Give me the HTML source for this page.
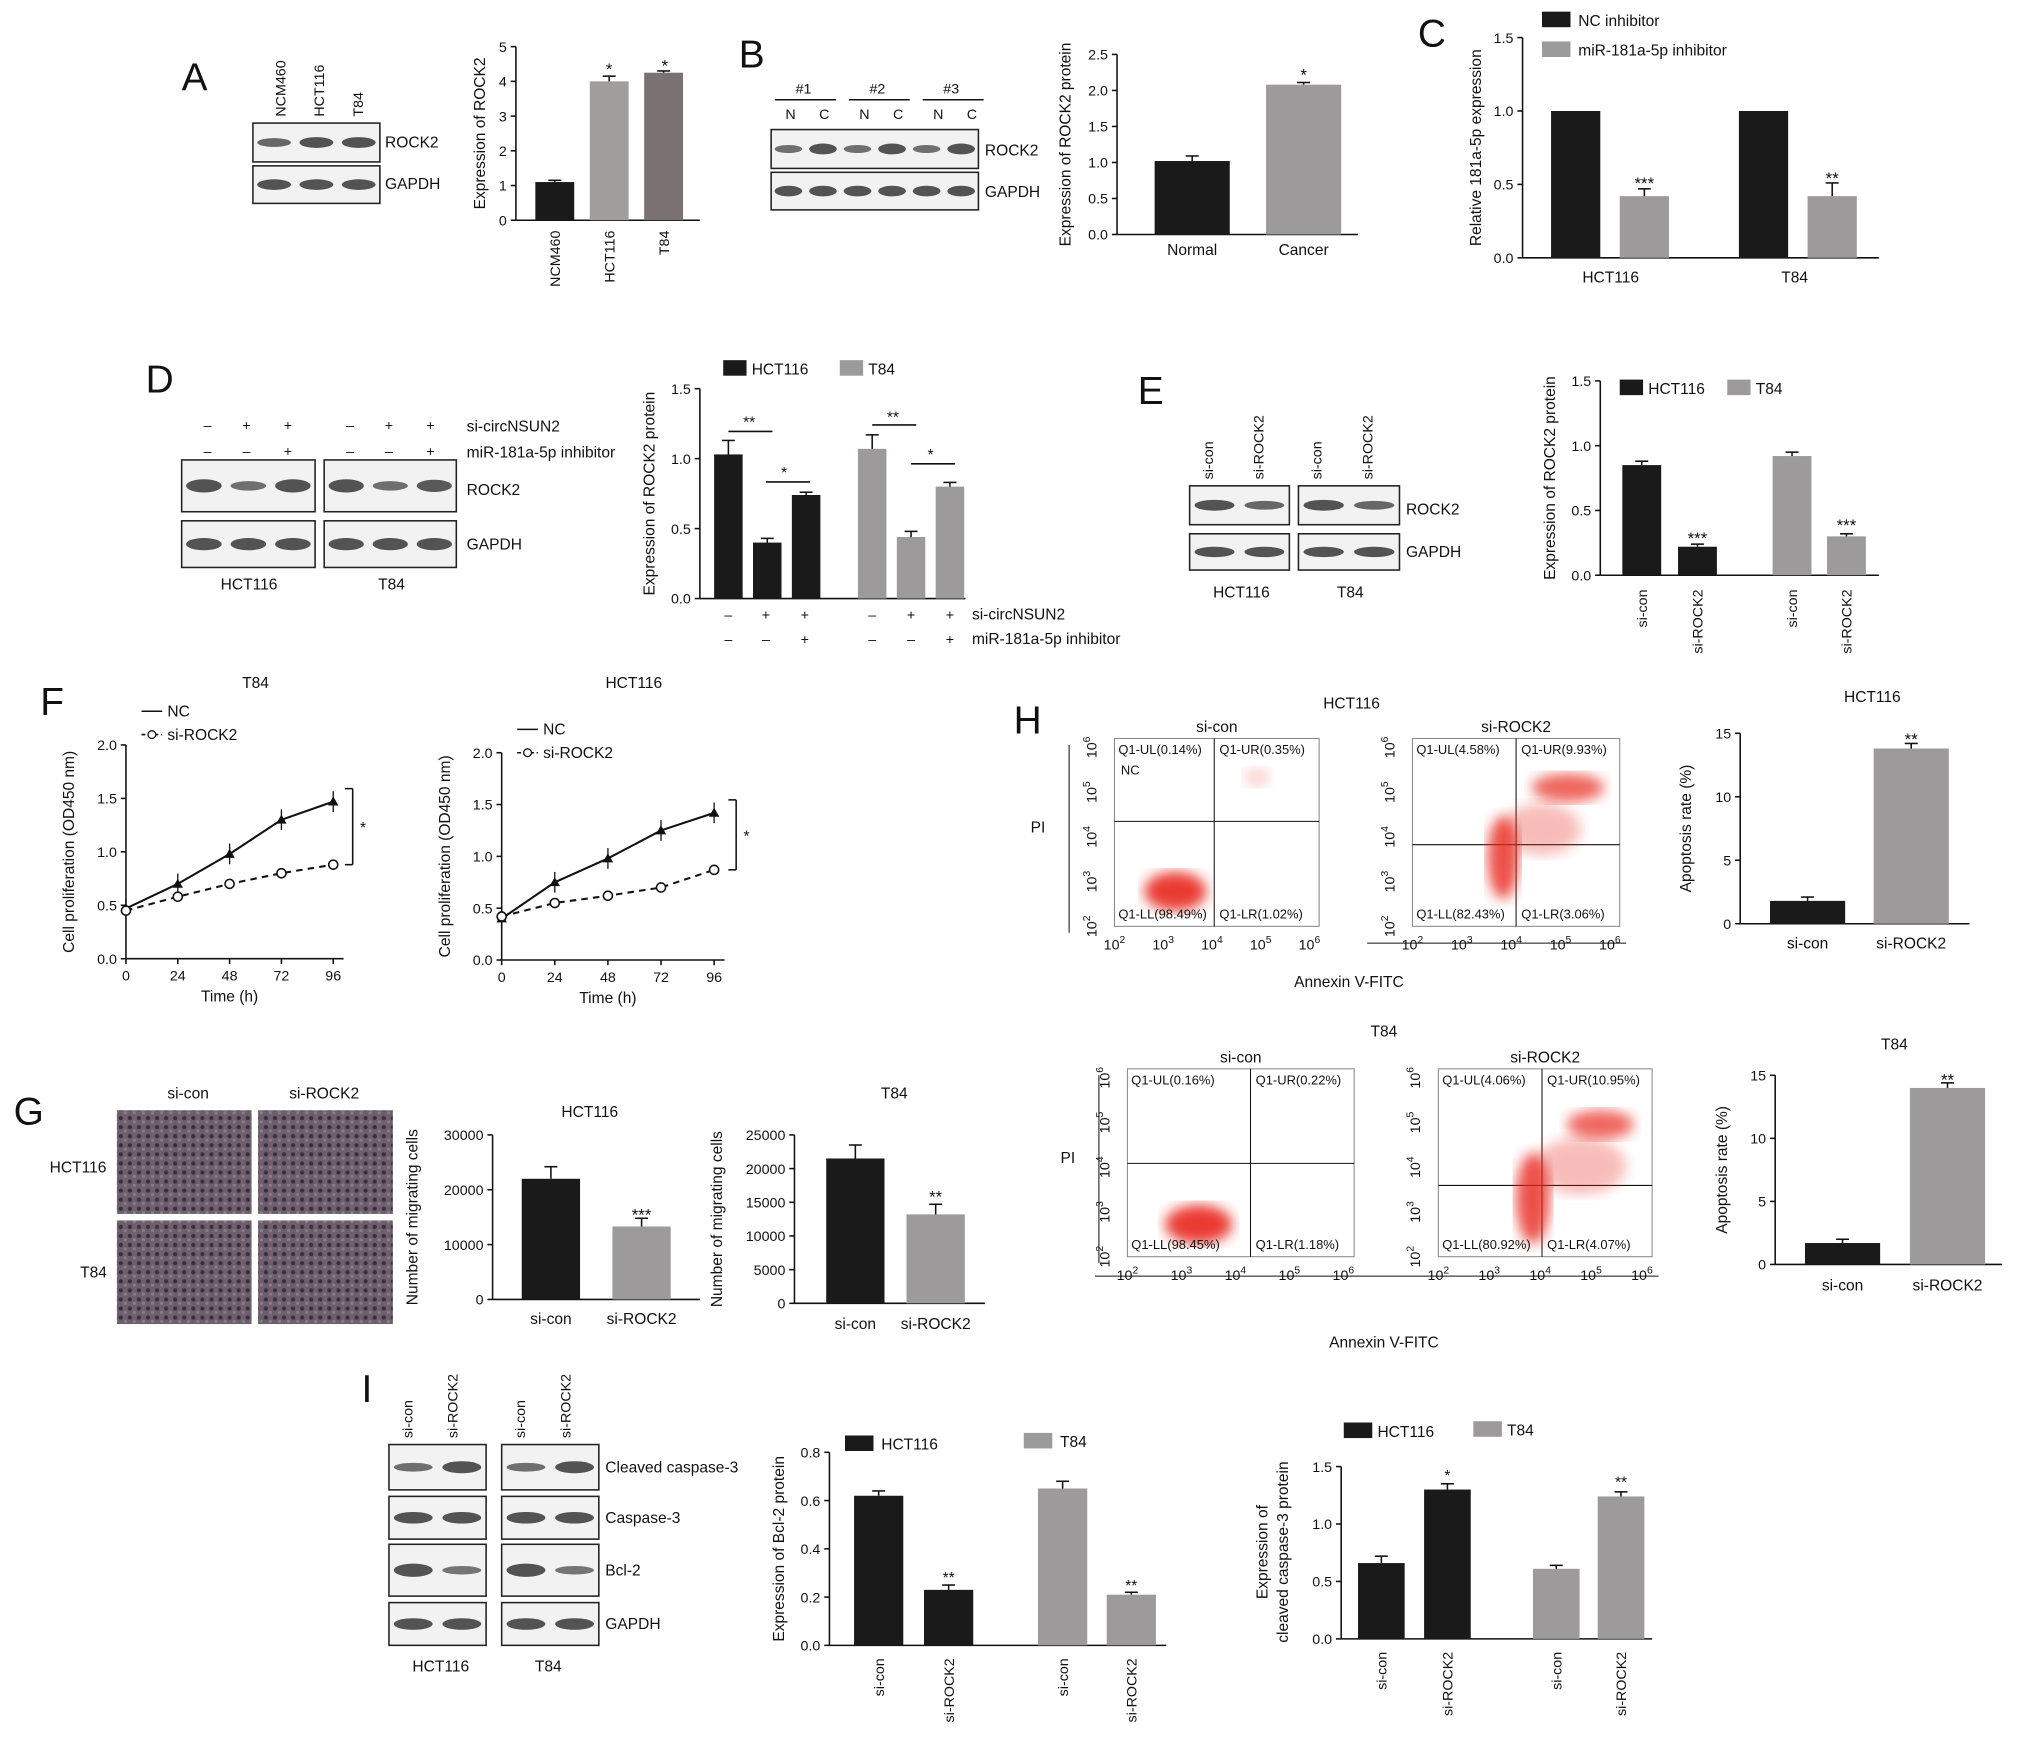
<!DOCTYPE html>
<html><head><meta charset="utf-8">
<style>
html,body{margin:0;padding:0;background:#fff;}
svg{display:block;font-family:"Liberation Sans",Arial,sans-serif;}
</style></head>
<body>
<svg id="fig" width="2032" height="1749" viewBox="0 0 1568 1350" xmlns="http://www.w3.org/2000/svg">
<defs>
<pattern id="cells" width="7" height="7" patternUnits="userSpaceOnUse">
<rect width="7" height="7" fill="#6d5f6e"/>
<circle cx="2" cy="2" r="1.6" fill="#3a2d3c"/><circle cx="5.5" cy="5" r="1.2" fill="#8a7c88"/>
</pattern>
<filter id="blur"><feGaussianBlur stdDeviation="5"/></filter>
</defs>
<g id="root"></g>
</svg>
<script>
// ---------- data ----------
const aCats=["NCM460","HCT116","T84"]; const aVals=[1.1,4.0,4.25]; const aErr=[0.05,0.15,0.05];
const bCats=["Normal","Cancer"]; const bVals=[1.02,2.08]; const bErr=[0.07,0.03];
const cGroups=["HCT116","T84"]; const cNC=[1.0,1.0]; const cInh=[0.42,0.42]; const cInhErr=[0.05,0.09];
const dHCT=[1.03,0.4,0.74]; const dT84=[1.07,0.44,0.8]; const dHCTerr=[0.1,0.03,0.02]; const dT84err=[0.1,0.04,0.03];
const eHCT=[0.85,0.22]; const eT84=[0.92,0.3]; const eErr=[0.03,0.02];
const fTimes=[0,24,48,72,96]; const fT84NC=[0.47,0.7,0.98,1.3,1.47]; const fT84Si=[0.45,0.58,0.7,0.8,0.88];
const fHctNC=[0.4,0.75,0.98,1.25,1.42]; const fHctSi=[0.42,0.55,0.62,0.7,0.87];
const gHct=[22000,13300]; const gHctErr=[2200,1500]; const gT84=[21500,13200]; const gT84Err=[2000,1500];
const hHct=[1.8,13.8]; const hT84=[1.7,14.0]; const hErr=[0.3,0.4];
const iBclHCT=[0.62,0.23]; const iBclT84=[0.65,0.21]; const iCasHCT=[0.66,1.3]; const iCasT84=[0.61,1.24];
const siCats=["si-con","si-ROCK2"];
// ---------- helpers ----------
const NS="http://www.w3.org/2000/svg"; const root=document.getElementById('root');
function el(tag,attrs,name,txt){const e=document.createElementNS(NS,tag);for(const k in attrs)e.setAttribute(k,attrs[k]);


if(txt!==undefined)e.textContent=txt;root.appendChild(e);return e;}
function T(x,y,s,opt={}){const a={x:x,y:y,'font-size':opt.fs||12,fill:'#111','text-anchor':opt.anchor||'middle'};
if(opt.rot!==undefined)a.transform=`rotate(${opt.rot} ${x} ${y})`;if(opt.bold)a['font-weight']='bold';return el('text',a,opt.name||'label',s);}
function sup(t,s){const ts=document.createElementNS(NS,'tspan');ts.setAttribute('dy','-5');ts.setAttribute('font-size','8');ts.textContent=s;t.appendChild(ts);}
function L(x1,y1,x2,y2,name,w,dash){const a={x1,y1,x2,y2,stroke:'#111','stroke-width':w||1.2};if(dash)a['stroke-dasharray']=dash;return el('line',a,name||'line');}
function yAxis(x,y0,yTop,max,step,dec,title,tx){const sc=v=>y0-v/max*(y0-yTop);L(x,y0,x,yTop,'y-axis');
for(let v=0;v<=max+1e-9;v+=step){const y=sc(v);L(x-4,y,x,y,'y-tick');T(x-7,y+4,v.toFixed(dec),{anchor:'end',fs:11,name:'y-tick-label'});}
if(title)T(tx,(y0+yTop)/2,title,{rot:-90,fs:12,name:'y-axis-title'});return sc;}
function bars(sc,y0,x0,step,w,vals,colors,errs,name){vals.forEach((v,i)=>{const cx=x0+step*i;const y=sc(v);
el('rect',{x:cx-w/2,y:y,width:w,height:y0-y,fill:colors[i%colors.length]},name+'-'+i);
if(errs){const ey=sc(v+errs[i]);L(cx,y,cx,ey,'error-bar',1.2);L(cx-5,ey,cx+5,ey,'error-cap',1.2);}});}
function letter(x,y,s){T(x,y,s,{fs:30,name:'panel-letter-'+s});}
function blot(x,y,w,h,lanes,intens,name){el('rect',{x,y,width:w,height:h,fill:'#f2f2f2',stroke:'#222','stroke-width':1.2},name);
const lw=w/lanes;for(let i=0;i<lanes;i++){const k=intens?intens[i]:1;el('ellipse',{cx:x+lw*(i+0.5),cy:y+h/2,rx:lw*0.4,ry:h*0.09*k+1.5,fill:'#2a2a2a',opacity:0.45+0.35*Math.min(k,1)},name+'-band');}}
const BK='#1a1a1a', GR='#9c9a9a';
// ---------- A ----------
letter(150,70,'A');
aCats.forEach((c,i)=>T(220+30*i,90,c,{rot:-90,anchor:'start',fs:11,name:'blot-lane-label'}));
blot(195,95,98,30,3,[0.7,1,1],'blot-rock2'); blot(195,128,98,29,3,[1,1,1],'blot-gapdh');
T(297,114,'ROCK2',{anchor:'start',fs:12}); T(297,146,'GAPDH',{anchor:'start',fs:12});
{const sc=yAxis(398,170,36,5,1,0,'Expression of ROCK2',374);L(398,170,540,170,'x-axis');
bars(sc,170,428,42,30,aVals,[BK,'#a09d9d','#7a7272'],aErr,'bar-a');
aCats.forEach((c,i)=>T(432+42*i,178,c,{rot:-90,anchor:'end',fs:11,name:'x-tick-label'}));
T(470,58,'*',{fs:13});T(513,55,'*',{fs:13});}
// ---------- B ----------
letter(580,52,'B');
['#1','#2','#3'].forEach((s,i)=>{T(620+57*i,72,s,{fs:11});L(598+57*i,77,645+57*i,77,'group-line');T(610+57*i,92,'N',{fs:11});T(636+57*i,92,'C',{fs:11});});
blot(595,100,160,30,6,[0.6,1,0.6,1,0.6,1],'blot-rock2-b'); blot(595,133,160,29,6,null,'blot-gapdh-b');
T(760,120,'ROCK2',{anchor:'start'});T(760,152,'GAPDH',{anchor:'start'});
{const sc=yAxis(862,181,42,2.5,0.5,1,'Expression of ROCK2 protein',826);L(862,181,1048,181,'x-axis');
bars(sc,181,920,86,58,bVals,[BK,GR],bErr,'bar-b');bCats.forEach((c,i)=>T(920+86*i,197,c,{fs:12,name:'x-tick-label'}));T(1006,62,'*',{fs:13});}
// ---------- C ----------
letter(1105,36,'C');
el('rect',{x:1190,y:9,width:22,height:12,fill:BK},'legend-swatch');T(1218,20,'NC inhibitor',{anchor:'start'});
el('rect',{x:1190,y:32,width:22,height:12,fill:GR},'legend-swatch');T(1218,43,'miR-181a-5p inhibitor',{anchor:'start'});
{const sc=yAxis(1175,199,29,1.5,0.5,1,'Relative 181a-5p expression',1143);L(1175,199,1450,199,'x-axis');
bars(sc,199,1216,145,38,cNC,[BK],null,'bar-c-nc');bars(sc,199,1269,145,38,cInh,[GR],cInhErr,'bar-c-inh');
cGroups.forEach((g,i)=>T(1243+142*i,218,g,{fs:12,name:'x-tick-label'}));T(1269,146,'***',{fs:13});T(1414,142,'**',{fs:13});}
// ---------- D ----------
letter(123,303,'D');
const sg1=['–','+','+'],sg2=['–','–','+'];
[160,190,222,270,300,332].forEach((x,i)=>{T(x,332,sg1[i%3],{fs:11,name:'sign'});T(x,352,sg2[i%3],{fs:11,name:'sign'});});
T(360,333,'si-circNSUN2',{anchor:'start'});T(360,353,'miR-181a-5p inhibitor',{anchor:'start'});
blot(140,355,103,40,3,[1,0.6,1],'blot-d');blot(250,355,102,40,3,[1,0.6,0.9],'blot-d');
blot(140,402,103,36,3,null,'blot-d-gapdh');blot(250,402,102,36,3,null,'blot-d-gapdh');
T(360,382,'ROCK2',{anchor:'start'});T(360,424,'GAPDH',{anchor:'start'});T(192,455,'HCT116');T(302,455,'T84');
el('rect',{x:558,y:278,width:18,height:12,fill:BK},'legend-swatch');T(580,289,'HCT116',{anchor:'start'});
el('rect',{x:648,y:278,width:18,height:12,fill:GR},'legend-swatch');T(670,289,'T84',{anchor:'start'});
{const sc=yAxis(540,462,300,1.5,0.5,1,'Expression of ROCK2 protein',505);L(540,462,745,462,'x-axis');
bars(sc,462,562,30,22,dHCT,[BK],dHCTerr,'bar-d-hct');bars(sc,462,673,30,22,dT84,[GR],dT84err,'bar-d-t84');
[562,591,621,673,703,733].forEach((x,i)=>{T(x,478,sg1[i%3],{fs:11,name:'sign'});T(x,497,sg2[i%3],{fs:11,name:'sign'});});
T(750,478,'si-circNSUN2',{anchor:'start'});T(750,497,'miR-181a-5p inhibitor',{anchor:'start'});
L(562,333,596,333,'sig-line');T(578,330,'**');L(591,372,625,372,'sig-line');T(605,369,'*');
L(673,328,707,328,'sig-line');T(689,326,'**');L(703,358,737,358,'sig-line');T(718,355,'*');}
// ---------- E ----------
letter(888,312,'E');
[936,975,1020,1059].forEach((x,i)=>T(x,370,siCats[i%2],{rot:-90,anchor:'start',fs:11,name:'blot-lane-label'}));
blot(918,375,77,30,2,[1,0.7],'blot-e');blot(1002,375,78,30,2,[1,0.7],'blot-e');
blot(918,412,77,28,2,null,'blot-e-gapdh');blot(1002,412,78,28,2,null,'blot-e-gapdh');
T(1085,397,'ROCK2',{anchor:'start'});T(1085,430,'GAPDH',{anchor:'start'});T(958,461,'HCT116');T(1042,461,'T84');
el('rect',{x:1250,y:293,width:18,height:12,fill:BK},'legend-swatch');T(1272,304,'HCT116',{anchor:'start'});
el('rect',{x:1333,y:293,width:18,height:12,fill:GR},'legend-swatch');T(1355,304,'T84',{anchor:'start'});
{const sc=yAxis(1235,444,294,1.5,0.5,1,'Expression of ROCK2 protein',1200);L(1235,444,1450,444,'x-axis');
bars(sc,444,1267,43,30,eHCT,[BK],eErr,'bar-e-hct');bars(sc,444,1383,42,30,eT84,[GR],eErr,'bar-e-t84');
[1267,1310,1383,1425].forEach((x,i)=>T(x+4,455,siCats[i%2],{rot:-90,anchor:'end',fs:11,name:'x-tick-label'}));
T(1310,420,'***',{fs:13});T(1425,410,'***',{fs:13});}
// ---------- F ----------
letter(40,552,'F');
function lineChart(ax,y0,yTop,xEnd,title,nc,si,legY,brX){T((ax+xEnd)/2+20,531,title);
const sc=yAxis(ax,y0,yTop,2,0.5,1,'Cell proliferation (OD450 nm)',ax-40);L(ax,y0,xEnd+8,y0,'x-axis');
const sx=t=>ax+t/96*(xEnd-ax);fTimes.forEach(t=>{L(sx(t),y0,sx(t),y0+4,'x-tick');T(sx(t),y0+17,String(t),{fs:11,name:'x-tick-label'});});
T((ax+xEnd)/2,y0+33,'Time (h)');
el('polyline',{points:fTimes.map((t,i)=>sx(t)+','+sc(nc[i])).join(' '),fill:'none',stroke:'#111','stroke-width':1.6},'series-nc');
el('polyline',{points:fTimes.map((t,i)=>sx(t)+','+sc(si[i])).join(' '),fill:'none',stroke:'#111','stroke-width':1.6,'stroke-dasharray':'5,4'},'series-si');
fTimes.forEach((t,i)=>{el('path',{d:`M${sx(t)-4},${sc(nc[i])+3}L${sx(t)+4},${sc(nc[i])+3}L${sx(t)},${sc(nc[i])-4}Z`,fill:'#111'},'point-nc');
L(sx(t),sc(nc[i])-8,sx(t),sc(nc[i])+8,'error-bar',1);
el('circle',{cx:sx(t),cy:sc(si[i]),r:3.5,fill:'#fff',stroke:'#111','stroke-width':1.2},'point-si');});
L(ax+12,legY,ax+28,legY,'legend-line');T(ax+32,legY+4,'NC',{anchor:'start'});
L(ax+12,legY+18,ax+28,legY+18,'legend-line',1.2,'3,2');el('circle',{cx:ax+20,cy:legY+18,r:3,fill:'#fff',stroke:'#111'},'legend-marker');T(ax+32,legY+22,'si-ROCK2',{anchor:'start'});
L(brX,sc(nc[4])-10,brX+6,sc(nc[4])-10,'bracket');L(brX+6,sc(nc[4])-10,brX+6,sc(si[4]),'bracket');L(brX,sc(si[4]),brX+6,sc(si[4]),'bracket');
T(brX+14,(sc(nc[4])+sc(si[4]))/2,'*');}
lineChart(97,740,575,257,'T84',fT84NC,fT84Si,549,266);
lineChart(387,741,581,551,'HCT116',fHctNC,fHctSi,563,562);
// ---------- G ----------
letter(22,868,'G');
[[90,857],[199,857],[90,942],[199,942]].forEach(p=>el('rect',{x:p[0],y:p[1],width:104,height:80,fill:'url(#cells)'},'migration-image'));
T(145,848,'si-con');T(250,848,'si-ROCK2');T(60,905,'HCT116');T(72,986,'T84');
{const sc=yAxis(380,1003,876,30000,10000,0,'Number of migrating cells',322);L(380,1003,540,1003,'x-axis');
bars(sc,1003,425,70,45,gHct,[BK,GR],gHctErr,'bar-g-hct');siCats.forEach((c,i)=>T(425+70*i,1022,c,{name:'x-tick-label'}));
T(455,862,'HCT116');T(495,942,'***',{fs:13});}
{const sc=yAxis(613,1006,876,25000,5000,0,'Number of migrating cells',557);L(613,1006,760,1006,'x-axis');
bars(sc,1006,660,62,45,gT84,[BK,GR],gT84Err,'bar-g-t84');siCats.forEach((c,i)=>T(660+62*i,1026,c,{name:'x-tick-label'}));
T(690,848,'T84');T(722,928,'**',{fs:13});}
// ---------- H ----------
letter(793,566,'H');
function flow(x,y,w,h,qx,qy,label,q,clusters,pi){T(x+w/2,y-5,label);el('rect',{x,y,width:w,height:h,fill:'none',stroke:'#888','stroke-width':0.8},'flow-frame');
L(qx,y,qx,y+h,'quadrant-line',0.8);L(x,qy,x+w,qy,'quadrant-line',0.8);
clusters.forEach(c=>el('ellipse',{cx:c[0],cy:c[1],rx:c[2],ry:c[3],fill:'#e8261e',opacity:c[4],filter:'url(#blur)'},'flow-cluster'));
T(x+3,y+12,'Q1-UL('+q[0]+')',{anchor:'start',fs:10});T(qx+4,y+12,'Q1-UR('+q[1]+')',{anchor:'start',fs:10});
T(x+3,y+h-6,'Q1-LL('+q[2]+')',{anchor:'start',fs:10});T(qx+4,y+h-6,'Q1-LR('+q[3]+')',{anchor:'start',fs:10});
for(let i=0;i<5;i++){const tx=T(x+i*(w/4.2),y+h+18,'10',{fs:11,name:'flow-x-tick'});sup(tx,String(i+2));
const ty=T(x-14,y+h-i*(h/4.2),'10',{fs:11,rot:-90,name:'flow-y-tick'});sup(ty,String(i+2));}
if(pi){L(pi,y+5,pi,y+h+5,'pi-axis',0.8);T(pi-24,y+h/2,'PI');}}
T(1043,547,'HCT116');T(1068,1040,'Annexin V-FITC');T(1041,762,'Annexin V-FITC');T(1068,800,'T84');
flow(860,570,158,145,937,634,'si-con',['0.14%','0.35%','98.49%','1.02%'],[[907,688,24,15,0.9],[970,600,10,7,0.2]],825);
T(865,598,'NC',{anchor:'start',fs:10});
flow(1090,570,160,145,1170,652,'si-ROCK2',['4.58%','9.93%','82.43%','3.06%'],[[1160,662,12,32,0.8],[1210,608,28,11,0.7],[1190,640,30,20,0.3]],null);
L(1055,728,1255,728,'flow-axis',0.8);L(845,985,1280,985,'flow-axis',0.8);
flow(870,825,175,145,965,898,'si-con',['0.16%','0.22%','98.45%','1.18%'],[[925,945,26,15,0.9]],848);
flow(1110,825,165,145,1190,915,'si-ROCK2',['4.06%','10.95%','80.92%','4.07%'],[[1183,925,13,35,0.8],[1235,868,26,11,0.7],[1220,900,35,22,0.3]],null);
{const sc=yAxis(1343,713,566,15,5,0,'Apoptosis rate (%)',1305);L(1343,713,1520,713,'x-axis');
bars(sc,713,1395,80,58,hHct,[BK,GR],hErr,'bar-h-hct');siCats.forEach((c,i)=>T(1395+80*i,732,c,{name:'x-tick-label'}));T(1445,542,'HCT116');T(1475,575,'**',{fs:13});}
{const sc=yAxis(1370,976,830,15,5,0,'Apoptosis rate (%)',1333);L(1370,976,1545,976,'x-axis');
bars(sc,976,1422,81,58,hT84,[BK,GR],hErr,'bar-h-t84');siCats.forEach((c,i)=>T(1422+81*i,996,c,{name:'x-tick-label'}));T(1462,810,'T84');T(1503,838,'**',{fs:13});}
// ---------- I ----------
letter(283,1082,'I');
[318,353,405,440].forEach((x,i)=>T(x,1110,siCats[i%2],{rot:-90,anchor:'start',fs:11,name:'blot-lane-label'}));
const rows=[[1115,35,'Cleaved caspase-3',[0.6,1]],[1155,33,'Caspase-3',[1,1]],[1192,40,'Bcl-2',[1,0.5]],[1237,33,'GAPDH',[1,1]]];
rows.forEach(r=>{blot(300,r[0],75,r[1],2,r[3],'blot-i');blot(387,r[0],75,r[1],2,r[3],'blot-i');T(467,r[0]+r[1]/2+4,r[2],{anchor:'start'});});
T(340,1290,'HCT116');T(423,1290,'T84');
el('rect',{x:652,y:1108,width:22,height:12,fill:BK},'legend-swatch');T(680,1119,'HCT116',{anchor:'start'});
el('rect',{x:790,y:1106,width:22,height:12,fill:GR},'legend-swatch');T(818,1117,'T84',{anchor:'start'});
{const sc=yAxis(640,1270,1121,0.8,0.2,1,'Expression of Bcl-2 protein',605);L(640,1270,900,1270,'x-axis');
bars(sc,1270,678,54,38,iBclHCT,[BK],[0.02,0.02],'bar-i-bcl-hct');bars(sc,1270,820,53,38,iBclT84,[GR],[0.03,0.01],'bar-i-bcl-t84');
[678,732,820,873].forEach((x,i)=>T(x+4,1280,siCats[i%2],{rot:-90,anchor:'end',fs:11,name:'x-tick-label'}));T(732,1222,'**');T(873,1228,'**');}
el('rect',{x:1037,y:1098,width:22,height:12,fill:BK},'legend-swatch');T(1063,1109,'HCT116',{anchor:'start'});
el('rect',{x:1137,y:1097,width:22,height:12,fill:GR},'legend-swatch');T(1163,1108,'T84',{anchor:'start'});
{const sc=yAxis(1035,1265,1132,1.5,0.5,1,null,0);L(1035,1265,1275,1265,'x-axis');
T(978,1198,'Expression of',{rot:-90,fs:12,name:'y-axis-title'});T(994,1198,'cleaved caspase-3 protein',{rot:-90,fs:12,name:'y-axis-title'});
bars(sc,1265,1066,51,36,iCasHCT,[BK],[0.06,0.05],'bar-i-cas-hct');bars(sc,1265,1201,50,36,iCasT84,[GR],[0.03,0.04],'bar-i-cas-t84');
[1066,1117,1201,1251].forEach((x,i)=>T(x+4,1275,siCats[i%2],{rot:-90,anchor:'end',fs:11,name:'x-tick-label'}));T(1117,1143,'*');T(1251,1148,'**');}
</script>
</body></html>
